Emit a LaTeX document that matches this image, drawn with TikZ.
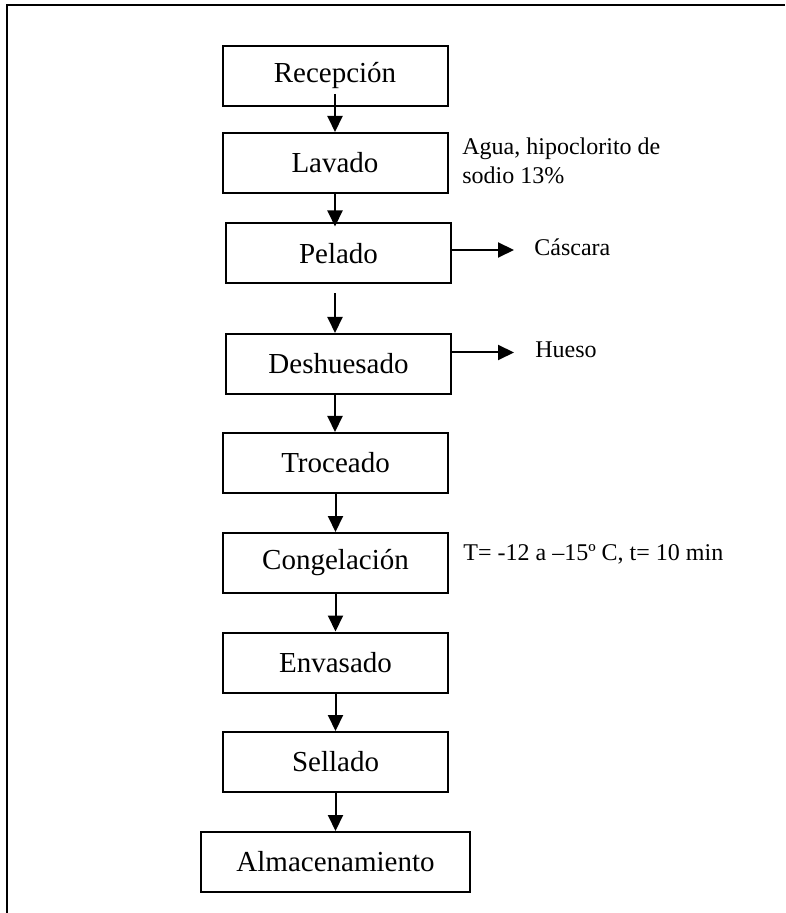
\documentclass[tikz,border=0pt]{standalone}
\usepackage{fontspec}
\setmainfont{Liberation Serif}
\usetikzlibrary{arrows.meta,positioning,calc}

\begin{document}
\begin{tikzpicture}[
  x=0.5pt,y=-0.5pt,
  etapa/.style={draw,rectangle,line width=1pt,minimum width=112.5pt,
                minimum height=30pt,inner sep=0pt,
                font=\fontsize{14.5}{17}\selectfont},
  nota/.style={inner sep=0pt,align=left,font=\fontsize{12}{14.5}\selectfont},
  arr/.style={-{Triangle[length=8pt,width=7.5pt]},line width=1pt}
]
\useasboundingbox (0,0) rectangle (785,913);
% marco
\draw[line width=1.4pt] (7,913) -- (7,5) -- (785,5);
% etapas
\node[etapa] (rec) at (335,76) {Recepción};
\node[etapa] (lav) at (335,163) {Lavado};
\node[etapa] (pel) at (338.5,253.5) {Pelado};
\node[etapa] (des) at (338.5,364) {Deshuesado};
\node[etapa] (tro) at (335.5,463) {Troceado};
\node[etapa] (con) at (335.5,563) {Congelación};
\node[etapa] (env) at (335.5,662.5) {Envasado};
\node[etapa] (sel) at (335.5,762) {Sellado};
\node[etapa,minimum width=134.5pt] (alm) at (335.5,862) {Almacenamiento};
% notas laterales
\node[nota,anchor=north west] (agua) at (462,137)
  {Agua, hipoclorito de\\sodio 13\%};
\node[nota,anchor=base west] (casc) at (534,256) {Cáscara};
\node[nota,anchor=base west] (hue) at (535,358) {Hueso};
\node[nota,anchor=base west] (temp) at (463,560)
  {T= -12 a –15º C, t= 10 min};
% flechas
\draw[arr] ($(rec.south)+(0,-13)$) -- (lav.north);
\draw[arr] (lav.south) -- ($(lav.south |- pel.north)+(0,4)$);
\draw[arr] ($(pel.south -| rec)+(0,9)$) -- (des.north -| rec);
\draw[arr] (des.south -| rec) -- (tro.north -| rec);
\draw[arr] (tro) ++(0,30) -- (con.north);
\draw[arr] (con.south) -- (env.north);
\draw[arr] (env.south) -- (sel.north);
\draw[arr] (sel.south) -- (alm.north);
\draw[arr] ($(pel.east)+(0,-3.5)$) -- ($(casc.west |- pel.east)+(-20,-3.5)$);
\draw[arr] ($(des.east)+(0,-11.5)$) -- ($(hue.west |- des.east)+(-21,-11.5)$);
\end{tikzpicture}
\end{document}
